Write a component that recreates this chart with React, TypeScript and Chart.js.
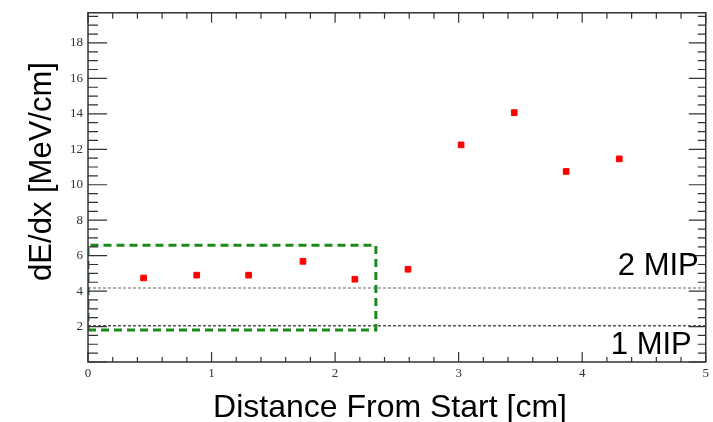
import React, { useEffect, useRef } from "react";
import { Chart, registerables } from "chart.js";

Chart.register(...registerables);

// Data
const distances = [0.45, 0.88, 1.3, 1.74, 2.16, 2.59, 3.02, 3.45, 3.87, 4.3];
const dEdx = [4.74, 4.9, 4.9, 5.68, 4.67, 5.23, 12.25, 14.07, 10.75, 11.46];
const mipLevels = [2.05, 4.18]; // 1 MIP, 2 MIP
const mipLabels = ["1 MIP", "2 MIP"];
const boxX = [0, 2.33];
const boxY = [1.8, 6.58];
const xRange = [0, 5];
const yRange = [0, 19.7];
const xTitle = "Distance From Start [cm]";
const yTitle = "dE/dx [MeV/cm]";

const framePlugin = {
  id: "rootFrame",
  afterDraw(chart: any) {
    const { ctx, chartArea, scales } = chart;
    const { left, right, top, bottom } = chartArea;
    const xs = scales.x;
    const ys = scales.y;
    ctx.save();
    ctx.strokeStyle = "#333";
    ctx.lineWidth = 1.5;
    ctx.strokeRect(left, top, right - left, bottom - top);
    ctx.lineWidth = 1.2;
    ctx.beginPath();
    // y ticks
    for (let i = 0; i <= Math.round(yRange[1] / 0.5); i++) {
      const v = i * 0.5;
      if (v > yRange[1] || v < yRange[0]) continue;
      const p = ys.getPixelForValue(v);
      const major = Math.abs(v % 2) < 1e-6;
      const lenL = major ? 19 : 10;
      const lenR = major ? 17 : 8;
      ctx.moveTo(left, p);
      ctx.lineTo(left + lenL, p);
      ctx.moveTo(right, p);
      ctx.lineTo(right - lenR, p);
    }
    // x ticks
    for (let i = 0; i <= 25; i++) {
      const v = xRange[0] + i * 0.2;
      const p = xs.getPixelForValue(v);
      const major = i % 5 === 0;
      const len = major ? 10 : 5;
      const lenT = major ? 10 : 6;
      ctx.moveTo(p, bottom);
      ctx.lineTo(p, bottom - len);
      ctx.moveTo(p, top);
      ctx.lineTo(p, top + lenT);
    }
    ctx.stroke();

    // texts
    ctx.fillStyle = "#000";
    ctx.font = "32px 'Liberation Sans', Arial, sans-serif";
    ctx.textAlign = "center";
    ctx.textBaseline = "alphabetic";
    ctx.fillText(xTitle, 390, 417);

    ctx.save();
    ctx.font = "31px 'Liberation Sans', Arial, sans-serif";
    ctx.translate(51, 171.5);
    ctx.rotate(-Math.PI / 2);
    ctx.fillText(yTitle, 0, 0);
    ctx.restore();

    ctx.font = "31px 'Liberation Sans', Arial, sans-serif";
    ctx.textAlign = "right";
    ctx.fillText(mipLabels[1], right - 7, ys.getPixelForValue(mipLevels[1]) - 13);
    ctx.fillText(mipLabels[0], right - 14, ys.getPixelForValue(mipLevels[0]) + 28);
    ctx.restore();
  },
};

export default function App() {
  const ref = useRef<HTMLCanvasElement>(null);
  useEffect(() => {
    if (!ref.current) return;
    const chart = new Chart(ref.current, {
      type: "scatter",
      data: {
        datasets: [
          {
            label: "dE/dx",
            data: distances.map((x, i) => ({ x, y: dEdx[i] })),
            pointStyle: "rect",
            pointRadius: 4,
            pointBackgroundColor: "#ff0000",
            pointBorderColor: "#ff0000",
            pointBorderWidth: 1,
            showLine: false,
            order: 0,
          },
          {
            label: "2 MIP",
            data: [
              { x: xRange[0], y: mipLevels[1] },
              { x: xRange[1], y: mipLevels[1] },
            ],
            showLine: true,
            borderColor: "#999",
            borderWidth: 1.5,
            borderDash: [3, 2],
            pointRadius: 0,
            order: 2,
          },
          {
            label: "1 MIP",
            data: [
              { x: xRange[0], y: mipLevels[0] },
              { x: xRange[1], y: mipLevels[0] },
            ],
            showLine: true,
            borderColor: "#555",
            borderWidth: 1.5,
            borderDash: [3, 2],
            pointRadius: 0,
            order: 2,
          },
          {
            label: "box",
            data: [
              { x: boxX[0], y: boxY[0] },
              { x: boxX[1], y: boxY[0] },
              { x: boxX[1], y: boxY[1] },
              { x: boxX[0], y: boxY[1] },
              { x: boxX[0], y: boxY[0] },
            ],
            showLine: true,
            borderColor: "#1a8a1a",
            borderWidth: 3,
            borderDash: [8, 5],
            pointRadius: 0,
            order: 1,
          },
        ],
      },
      options: {
        animation: false,
        responsive: false,
        events: [],
        layout: { padding: { left: 0, top: 12, right: 3, bottom: 0 } },
        plugins: {
          legend: { display: false },
          tooltip: { enabled: false },
          title: { display: false },
        },
        scales: {
          x: {
            type: "linear",
            min: xRange[0],
            max: xRange[1],
            grid: { display: false, drawTicks: false },
            border: { display: false },
            ticks: {
              stepSize: 1,
              padding: 4,
              color: "#333",
              font: { family: "'Liberation Serif', 'Times New Roman', serif", size: 13 },
              maxRotation: 0,
            },
            afterFit: (s: any) => {
              s.height = 60;
            },
          },
          y: {
            type: "linear",
            min: yRange[0],
            max: yRange[1],
            grid: { display: false, drawTicks: false },
            border: { display: false },
            ticks: {
              stepSize: 2,
              padding: 5,
              color: "#333",
              font: { family: "'Liberation Serif', 'Times New Roman', serif", size: 13 },
              callback: (v: any) => (v === 0 || Math.abs(v % 2) > 1e-6 ? "" : String(v)),
            },
            afterFit: (s: any) => {
              s.width = 88;
            },
          },
        },
      },
      plugins: [framePlugin],
    });
    return () => chart.destroy();
  }, []);
  return (
    <div style={{ position: "absolute", left: 0, top: 0, width: 713, height: 422, background: "#fff" }}>
      <canvas ref={ref} width={713} height={422} style={{ display: "block" }} />
    </div>
  );
}
